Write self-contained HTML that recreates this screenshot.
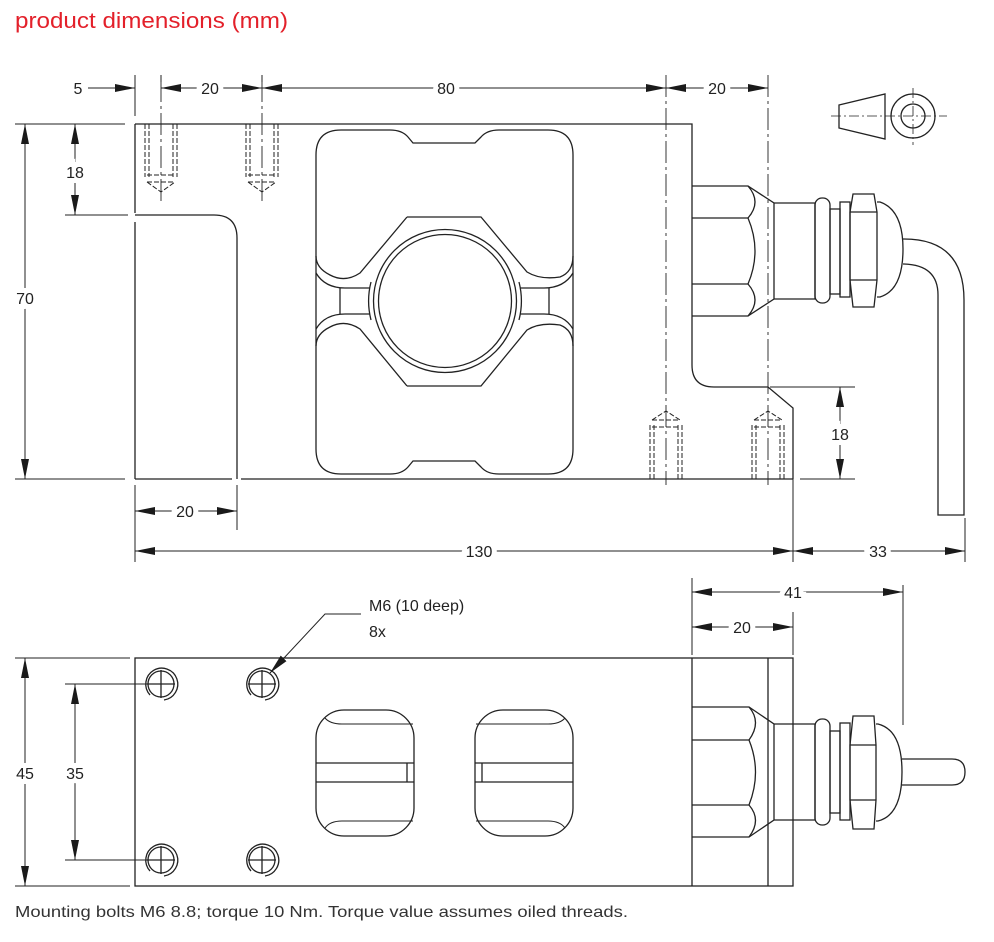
<!DOCTYPE html>
<html><head><meta charset="utf-8"><style>
html,body{margin:0;padding:0;background:#fff;}
svg{display:block;}
text{font-family:"Liberation Sans",sans-serif;fill:#222;}
.d{font-size:16px;paint-order:stroke;stroke:#fff;stroke-width:10px;}
</style></head><body>
<svg width="994" height="942" viewBox="0 0 994 942" xmlns="http://www.w3.org/2000/svg">
<defs>
<marker id="a" viewBox="0 0 20 8" refX="20" refY="4" markerWidth="20" markerHeight="8" markerUnits="userSpaceOnUse" orient="auto-start-reverse"><path d="M0,0L20,4L0,8z" fill="#1a1a1a"/></marker>
</defs>
<text x="15" y="28" style="font-size:22px;fill:#e3202a" textLength="273" lengthAdjust="spacingAndGlyphs">product dimensions (mm)</text>

<g fill="none" stroke="#222" stroke-width="1.3">
<path d="M135,124H692V365Q692,387 714,387H768L793,408V479"/>
<path d="M135,124V213M135,222V479"/>
<path d="M135,215H214Q237,215 237,238V479"/>
<path d="M135,479H232M241,479H793"/>
<path d="M341,130H390Q402,130 408,137L413,143H475L481,137Q487,130 499,130H548Q573,130 573,155V449Q573,474 548,474H499Q487,474 481,467L475,461H413L408,467Q402,474 390,474H341Q316,474 316,449V155Q316,130 341,130Z"/>
<path d="M407,217H481L527,272Q540,280 560,277Q573,272 573,256"/>
<path d="M407,217L360,273Q345,283 330,275Q316,268 316,256"/>
<path d="M316,273Q325,288 345,288H370M573,273Q564,288 544,288H520"/>
<path d="M407,386H481L527,330Q540,322 560,325Q573,330 573,346"/>
<path d="M407,386L360,329Q345,319 330,327Q316,334 316,346"/>
<path d="M316,329Q325,314 345,314H370M573,329Q564,314 544,314H520"/>
<path d="M340,288V314M549,288V314"/>
<circle cx="445" cy="301" r="71.5"/>
<circle cx="445" cy="301" r="66.5"/>
<path d="M371,282A77,77 0 0 0 371,320M519,282A77,77 0 0 1 519,320"/>
<g stroke-dasharray="5,2" stroke-width="1">
<path d="M145,124V177M149,124V177M173,124V177M177,124V177M147,175H175M147,182L161,192L175,182M147,182H175"/>
<path d="M246,124V177M250,124V177M274,124V177M278,124V177M248,175H276M248,182L262,192L276,182M248,182H276"/>
<path d="M650,479V425M654,479V425M678,479V425M682,479V425M652,427H680M652,420L666,411L680,420M652,420H680"/>
<path d="M752,479V425M756,479V425M780,479V425M784,479V425M754,427H782M754,420L768,411L782,420M754,420H782"/>
</g>
<g stroke-width="0.9" stroke-dasharray="22,4,3,4">
<path d="M161,80V205M262,80V205M666,75V485M768,75V485"/>
</g>
<path d="M692,186H748L774,203V299L748,316H692"/>
<path d="M692,218H748M692,284H748"/>
<path d="M748,186Q762,202 748,218Q762,251 748,284Q762,300 748,316"/>
<path d="M774,203H815V299H774"/>
<rect x="815" y="198" width="15" height="105" rx="7"/>
<rect x="830" y="209" width="10" height="85"/>
<rect x="840" y="202" width="10" height="95"/>
<path d="M853,194H874L877,212V280L874,307H853L850,280V212Z"/>
<path d="M850,212H877M850,280H877"/>
<path d="M877,202H880Q903,210 903,249Q903,290 880,297H877"/>
<path d="M903,239H904Q964,239 964,300V515H938V295Q938,265 904,264H903"/>
<path d="M839,105L885,94V139L839,128Z"/>
<circle cx="913" cy="116" r="22"/><circle cx="913" cy="116" r="12"/>
<path d="M831,116H947M913,88V145" stroke-width="0.8" stroke-dasharray="10,3,2,3"/>

<rect x="135" y="658" width="658" height="228"/>
<path d="M692,658V886M768,658V886"/>
<g>
<circle cx="161" cy="684" r="13"/><path d="M147,684H175M161,670V698"/><path d="M150,695A16,16 0 1 1 164,700"/>
<circle cx="262" cy="684" r="13"/><path d="M248,684H276M262,670V698"/><path d="M251,695A16,16 0 1 1 265,700"/>
<circle cx="161" cy="860" r="13"/><path d="M147,860H175M161,846V874"/><path d="M150,871A16,16 0 1 1 164,876"/>
<circle cx="262" cy="860" r="13"/><path d="M248,860H276M262,846V874"/><path d="M251,871A16,16 0 1 1 265,876"/>
</g>
<rect x="316" y="710" width="98" height="126" rx="28"/>
<rect x="475" y="710" width="98" height="126" rx="28"/>
<path d="M316,763H414M316,782H414M407,763V782M475,763H573M475,782H573M482,763V782"/>
<path d="M325,718Q330,724 342,724H413M325,828Q330,821 342,821H413M565,718Q560,724 548,724H476M565,828Q560,821 548,821H476" stroke-width="1"/>
<path d="M692,707H749L774,724V820L749,837H692"/>
<path d="M692,740H749M692,805H749"/>
<path d="M749,707Q762,722 749,740Q762,772 749,805Q762,820 749,837"/>
<path d="M774,724H815V820H774"/>
<rect x="815" y="719" width="15" height="106" rx="7"/>
<rect x="830" y="731" width="10" height="82"/>
<rect x="840" y="723" width="10" height="97"/>
<path d="M853,716H874L876,745V800L874,829H853L850,800V745Z"/>
<path d="M850,745H876M850,800H876"/>
<path d="M876,724H878Q902,730 902,772Q902,815 878,821H876"/>
<path d="M902,759H952Q965,759 965,772Q965,785 952,785H902"/>
</g>

<g fill="none" stroke="#222" stroke-width="1">
<path d="M135,75V116M161,75V82M262,75V82M135,485V562M237,485V530M793,412V562M965,518V562"/>
<path d="M15,124H125M15,479H125M65,215H128M770,387H855M800,479H855"/>
<path d="M15,658H130M65,684H148M65,860H148M15,886H130"/>
<path d="M692,578V655M903,585V725M793,612V655"/>
<path d="M88,88H135" marker-end="url(#a)"/>
<path d="M161,88H262" marker-start="url(#a)" marker-end="url(#a)"/>
<path d="M262,88H666" marker-start="url(#a)" marker-end="url(#a)"/>
<path d="M666,88H768" marker-start="url(#a)" marker-end="url(#a)"/>
<path d="M25,124V479" marker-start="url(#a)" marker-end="url(#a)"/>
<path d="M75,124V215" marker-start="url(#a)" marker-end="url(#a)"/>
<path d="M840,387V479" marker-start="url(#a)" marker-end="url(#a)"/>
<path d="M135,511H237" marker-start="url(#a)" marker-end="url(#a)"/>
<path d="M135,551H793" marker-start="url(#a)" marker-end="url(#a)"/>
<path d="M793,551H965" marker-start="url(#a)" marker-end="url(#a)"/>
<path d="M692,592H903" marker-start="url(#a)" marker-end="url(#a)"/>
<path d="M692,627H793" marker-start="url(#a)" marker-end="url(#a)"/>
<path d="M25,658V886" marker-start="url(#a)" marker-end="url(#a)"/>
<path d="M75,684V860" marker-start="url(#a)" marker-end="url(#a)"/>
<path d="M361,614H325L270,673" marker-end="url(#a)"/>
</g>
<text class="d" x="78" y="94" text-anchor="middle" style="stroke:none">5</text>
<text class="d" x="210" y="94" text-anchor="middle">20</text>
<text class="d" x="446" y="94" text-anchor="middle">80</text>
<text class="d" x="717" y="94" text-anchor="middle">20</text>
<text class="d" x="25" y="304" text-anchor="middle">70</text>
<text class="d" x="75" y="178" text-anchor="middle">18</text>
<text class="d" x="840" y="440" text-anchor="middle">18</text>
<text class="d" x="185" y="517" text-anchor="middle">20</text>
<text class="d" x="479" y="557" text-anchor="middle">130</text>
<text class="d" x="878" y="557" text-anchor="middle">33</text>
<text class="d" x="793" y="598" text-anchor="middle">41</text>
<text class="d" x="742" y="633" text-anchor="middle">20</text>
<text class="d" x="25" y="779" text-anchor="middle">45</text>
<text class="d" x="75" y="779" text-anchor="middle">35</text>
<text x="369" y="611" style="font-size:16px">M6 (10 deep)</text>
<text x="369" y="637" style="font-size:16px">8x</text>
<text x="15" y="917" style="font-size:16px;fill:#333" textLength="613" lengthAdjust="spacingAndGlyphs">Mounting bolts M6 8.8; torque 10 Nm. Torque value assumes oiled threads.</text>
</svg>
</body></html>
